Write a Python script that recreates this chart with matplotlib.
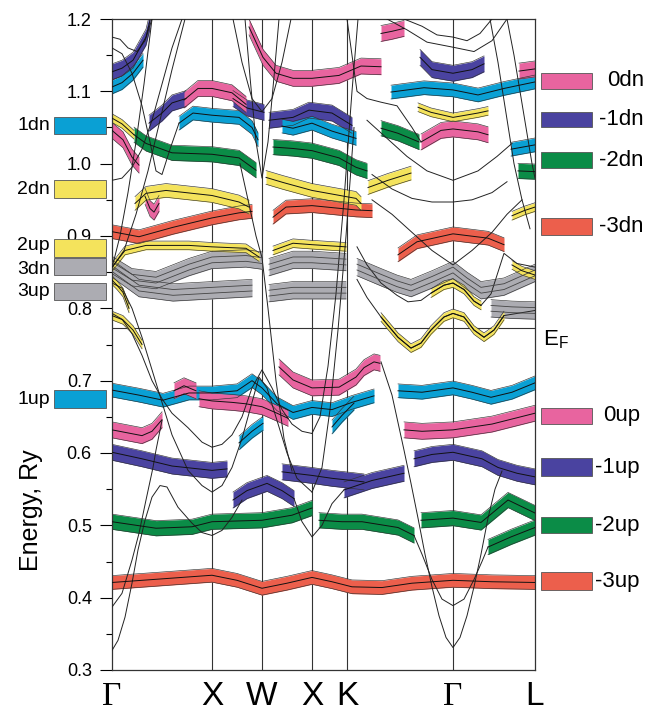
import matplotlib
matplotlib.use("Agg")
import matplotlib.pyplot as plt
import matplotlib.transforms as mtransforms
from matplotlib.patches import Rectangle
from matplotlib.ticker import MultipleLocator
import numpy as np

plt.rcParams['font.family'] = ['Liberation Sans', 'DejaVu Sans']
plt.rcParams['mathtext.fontset'] = 'custom'
plt.rcParams['mathtext.rm'] = 'Liberation Sans'

# path through the Brillouin zone
kpath = [0.0, 1.0, 1.5, 2.0, 2.35, 3.41, 4.23]
klabels = ['Γ', 'X', 'W', 'X', 'K', 'Γ', 'L']
e_fermi = 0.773

# fat bands, (k, energy in Ry), grouped by character
cyan_bands = [
    ([0, 0.27, 0.51, 0.77, 1.0, 1.25, 1.4, 1.5, 1.65, 1.81, 2.0, 2.2, 2.4, 2.62],
     [0.687, 0.680, 0.673, 0.683, 0.683, 0.686, 0.70, 0.69, 0.668, 0.656, 0.663, 0.66, 0.67, 0.679]),
    ([2.86, 3.1, 3.41, 3.6, 3.79, 4.0, 4.23], [0.686, 0.684, 0.690, 0.684, 0.677, 0.684, 0.697]),
    ([1.27, 1.4, 1.51], [0.614, 0.63, 0.641]),
    ([2.2, 2.3, 2.42], [0.636, 0.652, 0.669]),
    ([0, 0.1, 0.21, 0.31], [1.106, 1.112, 1.125, 1.143]),
    ([0.67, 0.81, 1.0, 1.27, 1.4, 1.46], [1.056, 1.07, 1.067, 1.064, 1.05, 1.033]),
    ([1.7, 1.81, 2.0, 2.2, 2.44], [1.052, 1.049, 1.056, 1.045, 1.035]),
    ([2.79, 3.12, 3.41, 3.66, 3.92, 4.23], [1.099, 1.105, 1.102, 1.095, 1.104, 1.113]),
    ([3.99, 4.23], [1.02, 1.026]),
]
pink_bands = [
    ([0, 0.15, 0.3, 0.4, 0.5], [0.632, 0.628, 0.624, 0.63, 0.646]),
    ([0.62, 0.72, 0.84], [0.686, 0.693, 0.686]),
    ([0.87, 1.0, 1.2, 1.34, 1.5, 1.65, 1.76], [0.675, 0.672, 0.67, 0.668, 0.664, 0.655, 0.648]),
    ([1.67, 1.81, 2.0, 2.27, 2.44, 2.52, 2.62, 2.68], [0.719, 0.701, 0.69, 0.691, 0.705, 0.718, 0.726, 0.724]),
    ([2.92, 3.1, 3.41, 3.8, 4.23], [0.632, 0.63, 0.632, 0.64, 0.655]),
    ([0, 0.11, 0.2, 0.27], [1.046, 1.033, 1.009, 0.998]),
    ([0.33, 0.38, 0.42, 0.47], [0.955, 0.938, 0.933, 0.945]),
    ([0.72, 0.86, 1.0, 1.2, 1.34], [1.088, 1.104, 1.104, 1.098, 1.082]),
    ([1.37, 1.51, 1.64, 1.81, 2.0, 2.27, 2.49, 2.69], [1.189, 1.147, 1.125, 1.118, 1.118, 1.122, 1.135, 1.134]),
    ([3.09, 3.29, 3.41, 3.66, 3.76], [1.03, 1.046, 1.048, 1.044, 1.04]),
    ([4.07, 4.23], [1.128, 1.131]),
    ([2.69, 2.8, 2.92], [1.18, 1.183, 1.187]),
]
purple_bands = [
    ([0, 0.3, 0.6, 1.0, 1.15], [0.601, 0.592, 0.582, 0.576, 0.578]),
    ([1.21, 1.35, 1.55, 1.7, 1.82], [0.535, 0.548, 0.558, 0.548, 0.537]),
    ([1.7, 2.0, 2.2, 2.4, 2.52], [0.574, 0.569, 0.565, 0.562, 0.56]),
    ([2.32, 2.6, 2.92], [0.549, 0.562, 0.572]),
    ([3.02, 3.2, 3.41, 3.7, 3.86, 4.05, 4.23], [0.592, 0.598, 0.601, 0.592, 0.58, 0.572, 0.567]),
    ([0, 0.1, 0.21, 0.34, 0.38], [1.127, 1.132, 1.143, 1.175, 1.198]),
    ([0.37, 0.5, 0.6, 0.74], [1.056, 1.07, 1.084, 1.09]),
    ([1.21, 1.35, 1.52], [1.09, 1.077, 1.071]),
    ([1.57, 1.81, 1.97, 2.2, 2.4], [1.06, 1.064, 1.074, 1.07, 1.053]),
    ([3.08, 3.2, 3.41, 3.6, 3.72], [1.147, 1.13, 1.125, 1.13, 1.138]),
]
green_bands = [
    ([0, 0.44, 0.8, 1.0, 1.5, 1.8, 2.0], [0.505, 0.496, 0.498, 0.505, 0.507, 0.514, 0.524]),
    ([2.07, 2.3, 2.5, 2.86, 3.02], [0.507, 0.505, 0.505, 0.497, 0.486]),
    ([3.09, 3.41, 3.69, 3.96, 4.23], [0.507, 0.51, 0.504, 0.535, 0.517]),
    ([3.76, 3.99, 4.23], [0.47, 0.484, 0.497]),
    ([0.22, 0.34, 0.6, 1.0, 1.27, 1.44], [1.04, 1.028, 1.015, 1.013, 1.008, 0.991]),
    ([1.61, 1.81, 2.0, 2.27, 2.44, 2.55], [1.023, 1.021, 1.018, 1.008, 0.995, 0.99]),
    ([2.69, 2.86, 3.07], [1.049, 1.042, 1.03]),
    ([4.06, 4.23], [0.99, 0.989]),
]
red_bands = [
    ([0, 0.5, 1.0, 1.25, 1.5, 1.75, 2.0, 2.2, 2.4, 2.7, 3.0, 3.41, 3.8, 4.23],
     [0.421, 0.426, 0.431, 0.424, 0.413, 0.42, 0.428, 0.422, 0.415, 0.414, 0.42, 0.424, 0.422, 0.421]),
    ([0, 0.27, 0.61, 1.0, 1.27, 1.4], [0.906, 0.899, 0.912, 0.925, 0.932, 0.934]),
    ([1.61, 1.74, 2.0, 2.44, 2.6], [0.926, 0.94, 0.942, 0.936, 0.935]),
    ([2.86, 3.05, 3.41, 3.76, 3.92], [0.874, 0.892, 0.903, 0.897, 0.888]),
]
yellow_bands = [
    ([0.23, 0.34, 0.54, 1.0, 1.27, 1.37], [0.945, 0.959, 0.963, 0.956, 0.947, 0.94]),
    ([1.54, 1.71, 2.0, 2.44, 2.49], [0.981, 0.974, 0.963, 0.952, 0.945]),
    ([2.56, 2.76, 2.99], [0.967, 0.977, 0.987]),
]
yellow_thin_bands = [
    ([0, 0.1, 0.22], [1.063, 1.055, 1.04]),
    ([3.06, 3.19, 3.41, 3.66, 3.76], [1.078, 1.071, 1.064, 1.07, 1.073]),
    ([0, 0.13, 0.34, 0.77, 1.0, 1.34, 1.47], [0.857, 0.88, 0.887, 0.887, 0.885, 0.883, 0.871]),
    ([1.61, 1.81, 2.0, 2.34], [0.88, 0.89, 0.888, 0.885]),
    ([0, 0.05, 0.11, 0.17], [0.839, 0.832, 0.822, 0.80]),
    ([0, 0.11, 0.21, 0.3], [0.79, 0.784, 0.77, 0.75]),
    ([3.19, 3.32, 3.41, 3.52, 3.62, 3.69], [0.821, 0.832, 0.835, 0.826, 0.81, 0.804]),
    ([2.69, 2.86, 2.99, 3.09, 3.19, 3.32, 3.41, 3.52, 3.62, 3.72, 3.82, 3.92],
     [0.788, 0.76, 0.745, 0.752, 0.77, 0.788, 0.793, 0.788, 0.77, 0.76, 0.77, 0.79]),
    ([4.0, 4.12, 4.23], [0.928, 0.935, 0.94]),
    ([4.0, 4.1, 4.23], [0.86, 0.852, 0.846]),
]
gray_bands = [
    ([0, 0.2, 0.44, 0.77, 1.0, 1.34, 1.5], [0.86, 0.843, 0.839, 0.857, 0.867, 0.869, 0.866]),
    ([0, 0.27, 0.61, 1.0, 1.4], [0.855, 0.828, 0.822, 0.825, 0.828]),
    ([1.57, 1.81, 2.0, 2.34], [0.857, 0.867, 0.867, 0.864]),
    ([1.57, 1.81, 2.0, 2.34], [0.821, 0.825, 0.825, 0.825]),
    ([2.45, 2.69, 2.85, 2.99, 3.2, 3.41, 3.55, 3.69, 3.92, 4.23],
     [0.857, 0.843, 0.834, 0.828, 0.84, 0.853, 0.838, 0.825, 0.83, 0.849]),
    ([3.79, 4.0, 4.23], [0.80, 0.798, 0.797]),
]

# bands without marked character
thin_bands = [
    ([0, 0.06, 0.13, 0.2, 0.26, 0.33, 0.4, 0.48, 0.55, 0.66, 0.8, 0.9, 1.0, 1.1, 1.2, 1.3],
     [0.327, 0.341, 0.373, 0.42, 0.466, 0.507, 0.539, 0.555, 0.553, 0.525, 0.503, 0.49, 0.486, 0.493, 0.511, 0.535]),
    ([0, 0.1, 0.2, 0.27, 0.34, 0.41, 0.44, 0.5], [0.387, 0.406, 0.452, 0.489, 0.535, 0.58, 0.604, 0.645]),
    ([0, 0.1, 0.2, 0.3, 0.4, 0.5, 0.6, 0.76, 0.9, 1.0, 1.1, 1.2, 1.3, 1.4, 1.47, 1.55, 1.65, 1.75, 1.85, 2.0],
     [0.835, 0.828, 0.8, 0.76, 0.715, 0.67, 0.625, 0.576, 0.555, 0.546, 0.555, 0.58, 0.62, 0.67, 0.705, 0.69, 0.645, 0.6, 0.565, 0.546]),
    ([0, 0.1, 0.2, 0.3, 0.4, 0.5, 0.6, 0.76, 0.9, 1.0, 1.1, 1.2, 1.3, 1.4, 1.5, 1.6, 1.7, 1.8, 1.9, 2.0],
     [0.793, 0.785, 0.765, 0.735, 0.70, 0.675, 0.655, 0.635, 0.615, 0.608, 0.612, 0.625, 0.65, 0.69, 0.715, 0.69, 0.66, 0.64, 0.63, 0.627]),
    ([1.82, 1.9, 2.0, 2.1, 2.2, 2.32], [0.537, 0.505, 0.484, 0.50, 0.53, 0.549]),
    ([2.0, 2.1, 2.18, 2.26, 2.34, 2.42], [0.546, 0.58, 0.66, 0.77, 0.9, 1.05]),
    ([2.0, 2.08, 2.16, 2.24, 2.32, 2.4, 2.46], [0.627, 0.65, 0.72, 0.82, 0.95, 1.1, 1.2]),
    ([2.69, 2.8, 2.92, 2.99, 3.06, 3.13, 3.2, 3.27, 3.34, 3.41, 3.48, 3.55, 3.62, 3.69, 3.76, 3.83, 3.9],
     [0.726, 0.68, 0.604, 0.558, 0.51, 0.46, 0.415, 0.375, 0.345, 0.331, 0.345, 0.375, 0.415, 0.46, 0.51, 0.55, 0.575]),
    ([3.02, 3.1, 3.2, 3.3, 3.41, 3.52, 3.62, 3.7, 3.76], [0.486, 0.46, 0.425, 0.398, 0.389, 0.398, 0.425, 0.45, 0.47]),
    ([0, 0.08, 0.16, 0.25, 0.33, 0.4], [1.175, 1.172, 1.16, 1.155, 1.17, 1.2]),
    ([0, 0.1, 0.2, 0.3, 0.38, 0.44, 0.5, 0.58, 0.67], [1.16, 1.152, 1.125, 1.08, 1.03, 0.99, 0.985, 1.02, 1.056]),
    ([0, 0.1, 0.2, 0.3, 0.4, 0.5, 0.6, 0.7], [0.977, 0.98, 0.995, 1.02, 1.06, 1.11, 1.16, 1.2]),
    ([0, 0.08, 0.16, 0.24, 0.32, 0.4], [0.856, 0.9, 0.96, 1.03, 1.11, 1.2]),
    ([0, 0.12, 0.24, 0.36, 0.48, 0.6, 0.73], [0.856, 0.88, 0.93, 0.99, 1.06, 1.13, 1.2]),
    ([1.21, 1.3, 1.4, 1.5, 1.6, 1.7, 1.79], [1.2, 1.14, 1.09, 1.072, 1.09, 1.14, 1.2]),
    ([1.33, 1.38, 1.44, 1.5, 1.56, 1.62, 1.67], [1.2, 1.12, 1.03, 0.98, 1.03, 1.12, 1.2]),
    ([1.28, 1.36, 1.44, 1.5, 1.56, 1.64, 1.72, 1.8], [1.0, 0.95, 0.9, 0.87, 0.8, 0.7, 0.62, 0.575]),
    ([2.92, 3.1, 3.25, 3.41, 3.55, 3.68, 3.8], [1.2, 1.19, 1.178, 1.175, 1.17, 1.18, 1.2]),
    ([2.75, 2.95, 3.15, 3.41, 3.62, 3.8, 3.95], [1.2, 1.185, 1.168, 1.161, 1.155, 1.17, 1.2]),
    ([2.55, 2.75, 2.95, 3.15, 3.41, 3.66, 3.85, 4.0], [1.06, 1.035, 1.01, 0.99, 0.977, 0.99, 1.01, 1.028]),
    ([2.6, 2.8, 3.0, 3.2, 3.41, 3.6, 3.8, 3.95], [0.985, 0.965, 0.952, 0.947, 0.947, 0.95, 0.96, 0.975]),
    ([2.6, 2.8, 3.0, 3.2, 3.41, 3.6, 3.8, 3.95, 4.1], [0.95, 0.93, 0.905, 0.88, 0.86, 0.88, 0.905, 0.93, 0.95]),
    ([2.45, 2.55, 2.69, 2.85, 2.96, 3.09, 3.19, 3.32, 3.41, 3.52, 3.62, 3.69, 3.79, 3.92, 4.05, 4.23],
     [0.885, 0.86, 0.835, 0.818, 0.809, 0.811, 0.821, 0.832, 0.835, 0.826, 0.81, 0.804, 0.82, 0.876, 0.862, 0.857]),
    ([2.45, 2.55, 2.69, 2.86, 2.99, 3.09, 3.19, 3.32, 3.41, 3.52, 3.62, 3.72, 3.82, 3.92, 4.23],
     [0.84, 0.815, 0.788, 0.76, 0.745, 0.752, 0.77, 0.788, 0.793, 0.788, 0.77, 0.76, 0.77, 0.79, 0.797]),
    ([2.35, 2.45, 2.55, 2.69, 2.85, 3.0, 3.09], [1.2, 1.1, 1.09, 1.085, 1.08, 1.05, 1.03]),
    ([3.78, 3.86, 3.94, 4.02, 4.1, 4.18], [1.2, 1.14, 1.07, 1.0, 0.95, 0.91]),
    ([3.95, 4.02, 4.08, 4.14, 4.2, 4.23], [1.2, 1.15, 1.1, 1.05, 1.0, 0.98]),
]

colors = {
    'cyan': '#0aa0d4', 'pink': '#e8649f', 'purple': '#4a43a0', 'green': '#0b8c47',
    'red': '#ec5f4c', 'yellow': '#f4e35c', 'gray': '#acacb2',
}


def fat(ax, k, e, color, hw, inner=False):
    k = np.asarray(k)
    e = np.asarray(e)
    ax.fill_between(k, e - hw, e + hw, color=color, lw=0, zorder=2)
    ax.plot(k, e - hw, color='#333333', lw=0.45, zorder=2.5, solid_joinstyle='round')
    ax.plot(k, e + hw, color='#333333', lw=0.45, zorder=2.5, solid_joinstyle='round')
    if inner:
        ax.plot(k, e - hw / 3, color='#444444', lw=0.6, zorder=3.5)
        ax.plot(k, e + hw / 3, color='#444444', lw=0.6, zorder=3.5)
    else:
        ax.plot(k, e, color='#111111', lw=0.7, zorder=3.5, solid_joinstyle='round')


W, H = 647, 721
fig = plt.figure(figsize=(W / 100, H / 100), dpi=100)
ax = fig.add_axes([112 / W, 1 - 670 / H, (535 - 112) / W, (670 - 19) / H])
px = mtransforms.Affine2D().scale(1 / W, -1 / H).translate(0, 1) + fig.transFigure

for kv in kpath[1:-1]:
    ax.axvline(kv, color='#333333', lw=0.8, zorder=1)
ax.axhline(e_fermi, color='#333333', lw=0.8, zorder=1)

for k, e in thin_bands:
    ax.plot(k, e, color='#222222', lw=0.7, zorder=3, solid_joinstyle='round')

for k, e in gray_bands:
    fat(ax, k, e, colors['gray'], 0.012, inner=True)
for k, e in red_bands:
    fat(ax, k, e, colors['red'], 0.0095)
for k, e in green_bands:
    fat(ax, k, e, colors['green'], 0.0105)
for k, e in purple_bands:
    fat(ax, k, e, colors['purple'], 0.011)
for k, e in cyan_bands:
    fat(ax, k, e, colors['cyan'], 0.0095)
for k, e in pink_bands:
    fat(ax, k, e, colors['pink'], 0.011)
for k, e in yellow_bands:
    fat(ax, k, e, colors['yellow'], 0.0095)
for k, e in yellow_thin_bands:
    fat(ax, k, e, colors['yellow'], 0.006)

ax.set_xlim(kpath[0], kpath[-1])
ax.set_ylim(0.3, 1.2)
ax.yaxis.set_major_locator(MultipleLocator(0.1))
ax.yaxis.set_minor_locator(MultipleLocator(0.05))
ax.tick_params(axis='y', which='major', direction='out', length=8.5, width=0.8, pad=6, labelsize=13)
ax.tick_params(axis='y', which='minor', direction='out', length=4, width=0.8)
ax.set_xticks(kpath)
ax.set_xticklabels(klabels)
ax.tick_params(axis='x', length=0, pad=8, labelsize=24)
for lbl in ax.get_xticklabels():
    if lbl.get_text() == 'Γ':
        lbl.set_fontfamily(['Liberation Serif', 'DejaVu Serif'])
for sp in ax.spines.values():
    sp.set_linewidth(0.9)
    sp.set_color('#333333')

fig.text(31, 510, 'Energy, Ry', transform=px, rotation=90, ha='center', va='center', fontsize=18)

# legend swatches, left side (box top, box height, label centre)
left_keys = [('1dn', 'cyan', 117, 17, 126), ('2dn', 'yellow', 180, 18, 189), ('2up', 'yellow', 239, 18, 246),
             ('3dn', 'gray', 258, 17, 269), ('3up', 'gray', 283, 17, 292), ('1up', 'cyan', 390, 18, 399)]
for name, c, y0, h, yt in left_keys:
    fig.add_artist(Rectangle((54, y0), 52, h, transform=px, facecolor=colors[c],
                             edgecolor='#555555', lw=0.6, zorder=5))
    fig.text(50, yt, name, transform=px, ha='right', va='center', fontsize=14, zorder=6)

# legend swatches, right side
right_keys = [('0dn', 'pink', 73, 16, 644), ('-1dn', 'purple', 112, 15, 644), ('-2dn', 'green', 152, 16, 644),
              ('-3dn', 'red', 218, 17, 644), ('0up', 'pink', 408, 16, 640), ('-1up', 'purple', 458, 18, 640),
              ('-2up', 'green', 517, 16, 640), ('-3up', 'red', 572, 18, 640)]
for name, c, y0, h, xr in right_keys:
    fig.add_artist(Rectangle((541, y0), 51, h, transform=px, facecolor=colors[c],
                             edgecolor='#555555', lw=0.6, zorder=5))
    fig.text(xr, y0 + h / 2, name, transform=px, ha='right', va='center', fontsize=16, zorder=6)

fig.text(543, 340, r'E$_\mathrm{F}$', transform=px, ha='left', va='center', fontsize=16)

fig.savefig('out.png', dpi=100)
